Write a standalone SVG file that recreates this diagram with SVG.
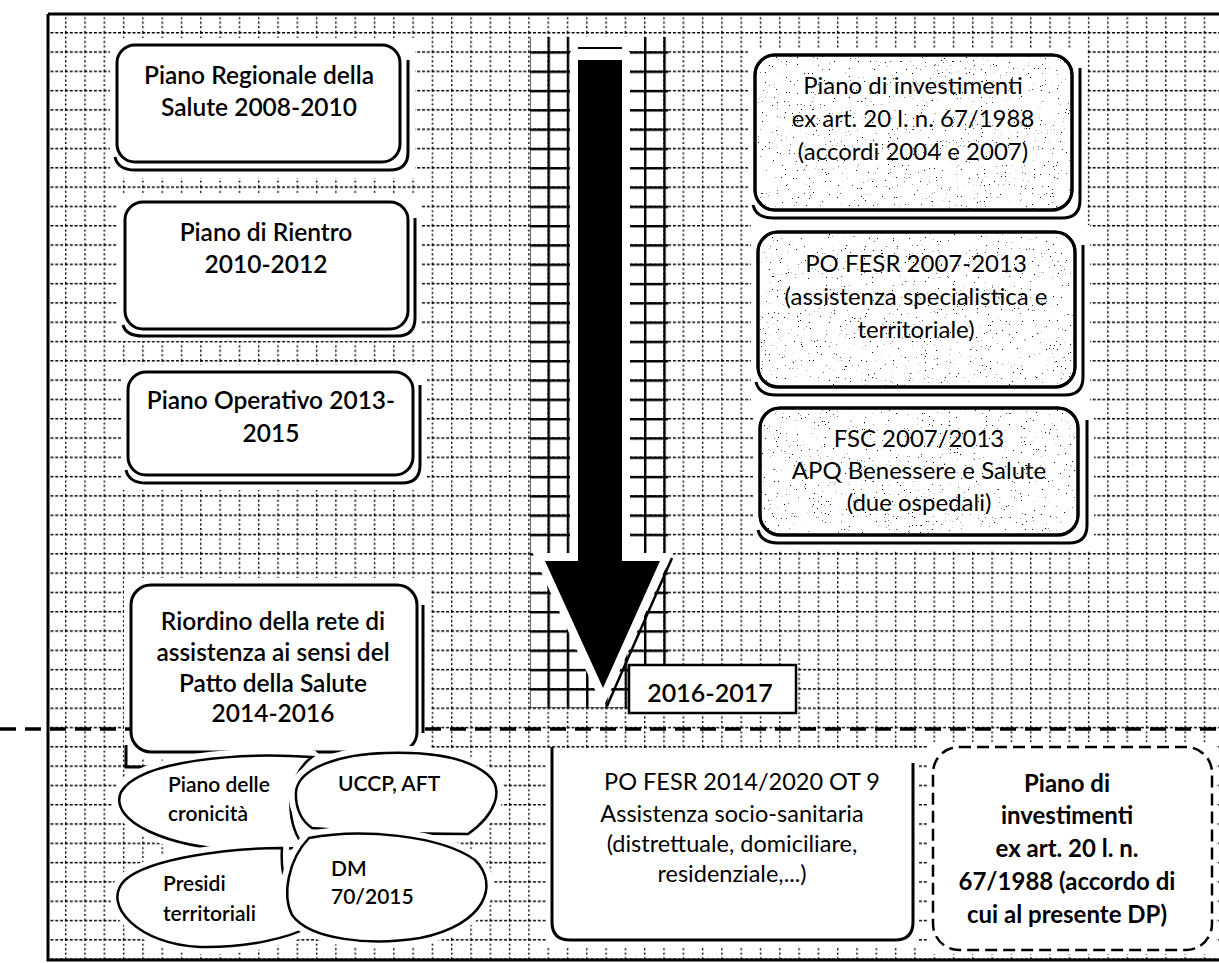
<svg xmlns="http://www.w3.org/2000/svg" width="1219" height="963" viewBox="0 0 1219 963">
<defs>
<style>
.t{font-family:Lato,"Liberation Sans",sans-serif;fill:#000;text-anchor:middle}
.l{font-size:24.5px;font-weight:600}
.r{font-size:24px}
.p{font-size:23.5px}
.s{font-size:21px;text-anchor:start;font-weight:600}
.b{font-size:24px;font-weight:bold}
.box{fill:#fff;stroke:#000;stroke-width:3}
.sh{fill:none;stroke:#000;stroke-width:3}
.halo{fill:#fff}
.leaf{fill:#fff;stroke:#000;stroke-width:2.5}
.leafh{fill:#fff;stroke:#fff;stroke-width:14;stroke-linejoin:round}
</style>
<pattern id="grid" x="65" y="32" width="19.3" height="19.3" patternUnits="userSpaceOnUse">
<line x1="0.7" y1="0" x2="0.7" y2="19.3" stroke="#000" stroke-width="1.4" stroke-dasharray="2 2.5"/>
<line x1="0" y1="0.7" x2="19.3" y2="0.7" stroke="#000" stroke-width="1.4" stroke-dasharray="3 1.8"/>
</pattern>
<pattern id="gridS" x="65" y="32" width="19.3" height="19.3" patternUnits="userSpaceOnUse">
<line x1="1.2" y1="0" x2="1.2" y2="19.3" stroke="#000" stroke-width="2.4"/>
<line x1="0" y1="1.2" x2="19.3" y2="1.2" stroke="#000" stroke-width="2.4"/>
</pattern>
<filter id="speck" x="0" y="0" width="1" height="1">
<feTurbulence type="fractalNoise" baseFrequency="0.75" numOctaves="2" seed="7"/>
<feColorMatrix type="matrix" values="0 0 0 0 0 0 0 0 0 0 0 0 0 0 0 -16 0 0 0 4.4"/>
</filter>
<clipPath id="c1"><rect x="755" y="55" width="317" height="155" rx="20"/></clipPath>
<clipPath id="c2"><rect x="758" y="232" width="317" height="155" rx="20"/></clipPath>
<clipPath id="c3"><rect x="760" y="408" width="318" height="127" rx="20"/></clipPath>
</defs>

<rect width="1219" height="963" fill="#fff"/>
<g id="background">
<rect x="48" y="14" width="1171" height="946" fill="url(#grid)"/>
<rect x="530" y="37" width="138" height="671" fill="url(#gridS)"/>
<rect x="571" y="37" width="58" height="33" fill="#fff"/>
<path d="M48,14 H1219 M48,14 V960 H1219" fill="none" stroke="#000" stroke-width="3"/>
</g>

<g id="halos">
<rect class="halo" x="110" y="38" width="305" height="140"/>
<rect class="halo" x="118" y="195" width="303" height="146"/>
<rect class="halo" x="121" y="365" width="306" height="125"/>
<rect class="halo" x="124" y="578" width="306" height="180"/>
<rect class="halo" x="748" y="48" width="339" height="177"/>
<rect class="halo" x="751" y="225" width="339" height="177"/>
<rect class="halo" x="753" y="401" width="341" height="149"/>
<rect class="halo" x="546" y="748" width="373" height="200"/>
<rect class="halo" x="928" y="742" width="288" height="212"/>
</g>

<g id="connectors">
<path d="M0,729 H1219" stroke="#000" stroke-width="3.5" stroke-dasharray="16 9"/>
<polygon points="578,60 622,60 622,561 660,561 603,688 545,561 578,561" fill="#fff" stroke="#fff" stroke-width="16" stroke-linejoin="miter"/>
<polygon points="578,60 622,60 622,561 660,561 603,688 545,561 578,561" fill="#000"/>
<line x1="578" y1="48" x2="622" y2="48" stroke="#000" stroke-width="2"/>
<line x1="672" y1="558" x2="607" y2="706" stroke="#000" stroke-width="2.5"/>
</g>

<g id="n-prs">
<path class="sh" d="M115,157 Q118,170 135,170 H390 Q408,170 408,152 V60"/>
<rect class="box" x="117" y="45" width="283" height="117" rx="18"/>
<text class="t l" x="259" y="84">Piano Regionale della</text>
<text class="t l" x="259" y="116">Salute 2008-2010</text>
</g>

<g id="n-rientro">
<path class="sh" d="M123,325 Q126,336 143,336 H397 Q415,336 415,318 V218"/>
<rect class="box" x="125" y="202" width="283" height="127" rx="18"/>
<text class="t l" x="266" y="241">Piano di Rientro</text>
<text class="t l" x="266" y="273">2010-2012</text>
</g>

<g id="n-operativo">
<path class="sh" d="M126,470 Q129,483 146,483 H402 Q420,483 420,465 V385"/>
<rect class="box" x="128" y="372" width="285" height="103" rx="18"/>
<text class="t l" x="271" y="409">Piano Operativo 2013-</text>
<text class="t l" x="271" y="442">2015</text>
</g>

<g id="n-riordino">
<path class="sh" d="M126,745 V767 H148 M423,605 V733"/>
<rect class="box" x="131" y="585" width="286" height="167" rx="20"/>
<text class="t l" x="273" y="630">Riordino della rete di</text>
<text class="t l" x="273" y="661">assistenza ai sensi del</text>
<text class="t l" x="273" y="692">Patto della Salute</text>
<text class="t l" x="273" y="722">2014-2016</text>
</g>

<g id="n-cronicita">
<path class="leafh" d="M312,757 C240,752 140,760 121,792 C108,822 170,848 240,850 C265,850 290,849 305,847 C286,828 283,778 312,757 Z"/>
<path class="leaf" d="M312,757 C240,752 140,760 121,792 C108,822 170,848 240,850 C265,850 290,849 305,847 C286,828 283,778 312,757 Z"/>
<text class="t s" x="168" y="792">Piano delle</text>
<text class="t s" x="168" y="821">cronicità</text>
</g>

<g id="n-uccp">
<path class="leafh" d="M468,834 C495,815 505,790 488,775 C465,755 420,752 386,753 C340,754 298,768 296,792 C295,810 303,822 312,828 C360,832 420,834 468,834 Z"/>
<path class="leaf" d="M468,834 C495,815 505,790 488,775 C465,755 420,752 386,753 C340,754 298,768 296,792 C295,810 303,822 312,828 C360,832 420,834 468,834 Z"/>
<text class="t s" x="338" y="791">UCCP, AFT</text>
</g>

<g id="n-presidi">
<path class="leafh" d="M282,848 C230,848 150,858 125,880 C100,905 140,945 200,947 C250,948 290,937 309,927 C288,905 280,875 282,848 Z"/>
<path class="leaf" d="M282,848 C230,848 150,858 125,880 C100,905 140,945 200,947 C250,948 290,937 309,927 C288,905 280,875 282,848 Z"/>
<text class="t s" x="163" y="891">Presidi</text>
<text class="t s" x="163" y="921">territoriali</text>
</g>

<g id="n-dm">
<path class="leafh" d="M309,838 C360,828 440,835 475,860 C500,885 485,925 420,938 C370,946 310,940 292,915 C282,895 288,860 309,838 Z"/>
<path class="leaf" d="M309,838 C360,828 440,835 475,860 C500,885 485,925 420,938 C370,946 310,940 292,915 C282,895 288,860 309,838 Z"/>
<text class="t s" x="331" y="876">DM</text>
<text class="t s" x="331" y="904">70/2015</text>
</g>

<g id="n-inv-2004">
<path class="sh" d="M753,205 Q756,218 773,218 H1062 Q1080,218 1080,200 V68"/>
<rect class="box" x="755" y="55" width="317" height="155" rx="20"/>
<rect x="755" y="55" width="317" height="155" fill="#fff" filter="url(#speck)" clip-path="url(#c1)"/>
<rect x="755" y="55" width="317" height="155" rx="20" fill="none" stroke="#000" stroke-width="3"/>
<text class="t r" x="913" y="94">Piano di investimenti</text>
<text class="t r" x="913" y="127">ex art. 20 l. n. 67/1988</text>
<text class="t r" x="913" y="160">(accordi 2004 e 2007)</text>
</g>

<g id="n-fesr-0713">
<path class="sh" d="M756,382 Q759,395 776,395 H1065 Q1083,395 1083,377 V245"/>
<rect class="box" x="758" y="232" width="317" height="155" rx="20"/>
<rect x="758" y="232" width="317" height="155" fill="#fff" filter="url(#speck)" clip-path="url(#c2)"/>
<rect x="758" y="232" width="317" height="155" rx="20" fill="none" stroke="#000" stroke-width="3"/>
<text class="t r" x="916" y="272">PO FESR 2007-2013</text>
<text class="t r" x="916" y="305">(assistenza specialistica e</text>
<text class="t r" x="916" y="338">territoriale)</text>
</g>

<g id="n-fsc">
<path class="sh" d="M758,530 Q761,543 778,543 H1069 Q1087,543 1087,525 V420"/>
<rect class="box" x="760" y="408" width="318" height="127" rx="20"/>
<rect x="760" y="408" width="318" height="127" fill="#fff" filter="url(#speck)" clip-path="url(#c3)"/>
<rect x="760" y="408" width="318" height="127" rx="20" fill="none" stroke="#000" stroke-width="3"/>
<text class="t r" x="919" y="447">FSC 2007/2013</text>
<text class="t r" x="919" y="479">APQ Benessere e Salute</text>
<text class="t r" x="919" y="511">(due ospedali)</text>
</g>

<g id="n-2016">
<rect x="629" y="665" width="167" height="48" fill="#fff" stroke="#000" stroke-width="2.5"/>
<text class="t" x="710" y="702" style="font-size:25px;font-weight:600">2016-2017</text>
</g>

<g id="n-fesr-1420">
<path d="M552,747 V922 Q552,940 570,940 H895 Q913,940 913,922 V763" fill="none" stroke="#000" stroke-width="3"/>
<text class="t p" x="742" y="790">PO FESR 2014/2020 OT 9</text>
<text class="t p" x="732" y="822">Assistenza socio-sanitaria</text>
<text class="t p" x="732" y="852">(distrettuale, domiciliare,</text>
<text class="t p" x="732" y="882">residenziale,...)</text>
</g>

<g id="n-inv-dp">
<rect x="933" y="747" width="279" height="203" rx="26" fill="#fff" stroke="#000" stroke-width="2.5" stroke-dasharray="12 6"/>
<text class="t b" x="1067" y="792">Piano di</text>
<text class="t b" x="1067" y="824">investimenti</text>
<text class="t b" x="1067" y="857">ex art. 20 l. n.</text>
<text class="t b" x="1067" y="890">67/1988 (accordo di</text>
<text class="t b" x="1067" y="923">cui al presente DP)</text>
</g>
</svg>
